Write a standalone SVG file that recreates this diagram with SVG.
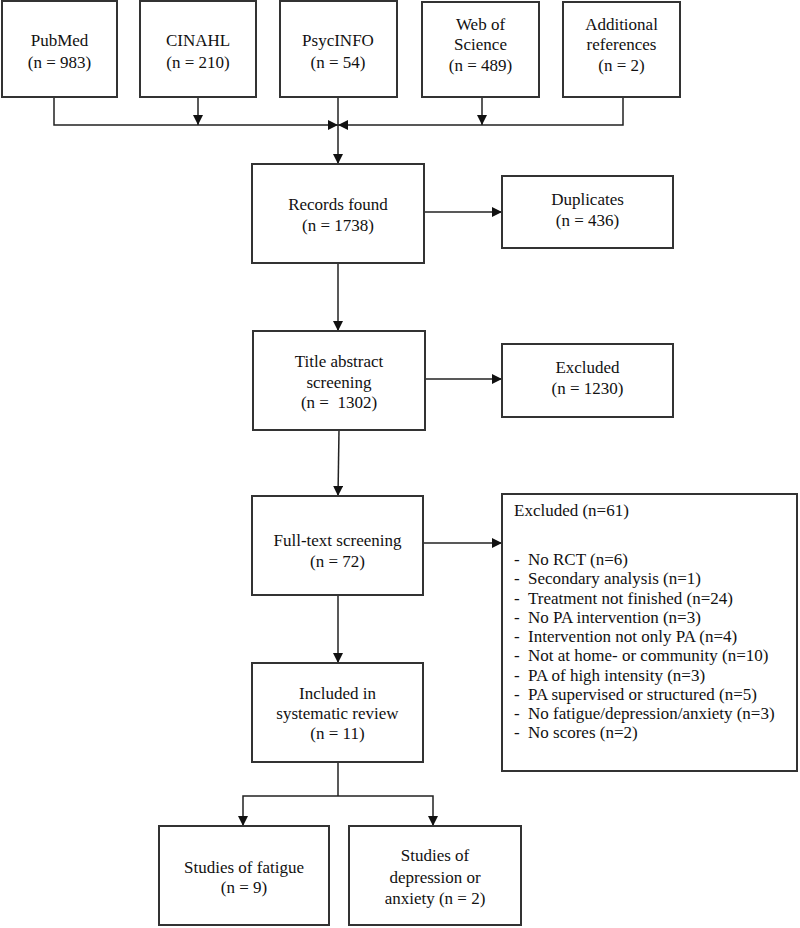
<svg xmlns="http://www.w3.org/2000/svg" width="800" height="928" viewBox="0 0 800 928">
<style>
.box{fill:#fff;stroke:#333;stroke-width:2}
.t{font-family:"Liberation Serif","Times New Roman",serif;font-size:17px;fill:#111;text-anchor:middle}
.l{font-family:"Liberation Serif","Times New Roman",serif;font-size:17px;fill:#111}
.c{fill:none;stroke:#222;stroke-width:1.5}
</style>
<defs>
<marker id="ah" viewBox="0 0 10 10" refX="10" refY="5" markerWidth="10" markerHeight="10" markerUnits="userSpaceOnUse" orient="auto">
<path d="M0,0 L10,5 L0,10 z" fill="#111"/>
</marker>
</defs>
<rect width="800" height="928" fill="#fff"/>
<g id="connectors">
<polyline class="c" points="54,97 54,125 338,125" marker-end="url(#ah)"/>
<polyline class="c" points="623,97 623,125 338,125" marker-end="url(#ah)"/>
<line class="c" x1="198" y1="97" x2="198" y2="125" marker-end="url(#ah)"/>
<line class="c" x1="482" y1="97" x2="482" y2="125" marker-end="url(#ah)"/>
<line class="c" x1="338" y1="97" x2="338" y2="164" marker-end="url(#ah)"/>
<line class="c" x1="424" y1="212" x2="502" y2="212" marker-end="url(#ah)"/>
<line class="c" x1="338" y1="263" x2="338" y2="331" marker-end="url(#ah)"/>
<line class="c" x1="425" y1="379" x2="502" y2="379" marker-end="url(#ah)"/>
<line class="c" x1="339" y1="430" x2="338" y2="496" marker-end="url(#ah)"/>
<line class="c" x1="423" y1="543" x2="502" y2="543" marker-end="url(#ah)"/>
<line class="c" x1="338" y1="595" x2="338" y2="663" marker-end="url(#ah)"/>
<polyline class="c" points="338,762 338,796"/>
<polyline class="c" points="338,796 243,796 243,826" marker-end="url(#ah)"/>
<polyline class="c" points="338,796 433,796 433,826" marker-end="url(#ah)"/>
</g>
<g id="pubmed">
<rect class="box" x="2" y="1" width="115" height="96"/>
<text class="t" x="59.5" y="46">PubMed</text>
<text class="t" x="59.5" y="68">(n = 983)</text>
</g>
<g id="cinahl">
<rect class="box" x="140" y="1" width="116" height="96"/>
<text class="t" x="198" y="46">CINAHL</text>
<text class="t" x="198" y="68">(n = 210)</text>
</g>
<g id="psycinfo">
<rect class="box" x="280" y="1" width="117" height="96"/>
<text class="t" x="338" y="46">PsycINFO</text>
<text class="t" x="338" y="68">(n = 54)</text>
</g>
<g id="wos">
<rect class="box" x="422" y="2" width="117" height="95"/>
<text class="t" x="480.5" y="30">Web of</text>
<text class="t" x="480.5" y="50">Science</text>
<text class="t" x="480.5" y="71">(n = 489)</text>
</g>
<g id="additional">
<rect class="box" x="563" y="2" width="117" height="95"/>
<text class="t" x="621.5" y="30">Additional</text>
<text class="t" x="621.5" y="50">references</text>
<text class="t" x="621.5" y="71">(n = 2)</text>
</g>
<g id="records">
<rect class="box" x="252" y="164" width="172" height="99"/>
<text class="t" x="338" y="210">Records found</text>
<text class="t" x="338" y="231">(n = 1738)</text>
</g>
<g id="duplicates">
<rect class="box" x="502" y="176" width="171" height="72"/>
<text class="t" x="587.5" y="205">Duplicates</text>
<text class="t" x="587.5" y="226">(n = 436)</text>
</g>
<g id="title">
<rect class="box" x="253" y="331" width="172" height="99"/>
<text class="t" x="339" y="367">Title abstract</text>
<text class="t" x="339" y="388">screening</text>
<text class="t" x="339" y="408" xml:space="preserve">(n =  1302)</text>
</g>
<g id="excluded1">
<rect class="box" x="502" y="344" width="171" height="73"/>
<text class="t" x="587.5" y="373">Excluded</text>
<text class="t" x="587.5" y="394">(n = 1230)</text>
</g>
<g id="fulltext">
<rect class="box" x="252" y="496" width="171" height="99"/>
<text class="t" x="337.5" y="546">Full-text screening</text>
<text class="t" x="337.5" y="567">(n = 72)</text>
</g>
<g id="excluded2">
<rect class="box" x="502" y="494" width="295" height="277"/>
<text class="l" x="514" y="516">Excluded (n=61)</text>
<text class="l" x="514" y="565">-</text><text class="l" x="528" y="565">No RCT (n=6)</text>
<text class="l" x="514" y="584">-</text><text class="l" x="528" y="584">Secondary analysis (n=1)</text>
<text class="l" x="514" y="604">-</text><text class="l" x="528" y="604">Treatment not finished (n=24)</text>
<text class="l" x="514" y="623">-</text><text class="l" x="528" y="623">No PA intervention (n=3)</text>
<text class="l" x="514" y="642">-</text><text class="l" x="528" y="642">Intervention not only PA (n=4)</text>
<text class="l" x="514" y="661">-</text><text class="l" x="528" y="661">Not at home- or community (n=10)</text>
<text class="l" x="514" y="681">-</text><text class="l" x="528" y="681">PA of high intensity (n=3)</text>
<text class="l" x="514" y="700">-</text><text class="l" x="528" y="700">PA supervised or structured (n=5)</text>
<text class="l" x="514" y="719">-</text><text class="l" x="528" y="719">No fatigue/depression/anxiety (n=3)</text>
<text class="l" x="514" y="738">-</text><text class="l" x="528" y="738">No scores (n=2)</text>
</g>
<g id="included">
<rect class="box" x="252" y="663" width="171" height="99"/>
<text class="t" x="337.5" y="699">Included in</text>
<text class="t" x="337.5" y="719">systematic review</text>
<text class="t" x="337.5" y="739">(n = 11)</text>
</g>
<g id="fatigue">
<rect class="box" x="159" y="826" width="170" height="99"/>
<text class="t" x="244" y="873">Studies of fatigue</text>
<text class="t" x="244" y="893">(n = 9)</text>
</g>
<g id="depression">
<rect class="box" x="349" y="826" width="172" height="99"/>
<text class="t" x="435" y="861">Studies of</text>
<text class="t" x="435" y="883">depression or</text>
<text class="t" x="435" y="904">anxiety (n = 2)</text>
</g>
</svg>
